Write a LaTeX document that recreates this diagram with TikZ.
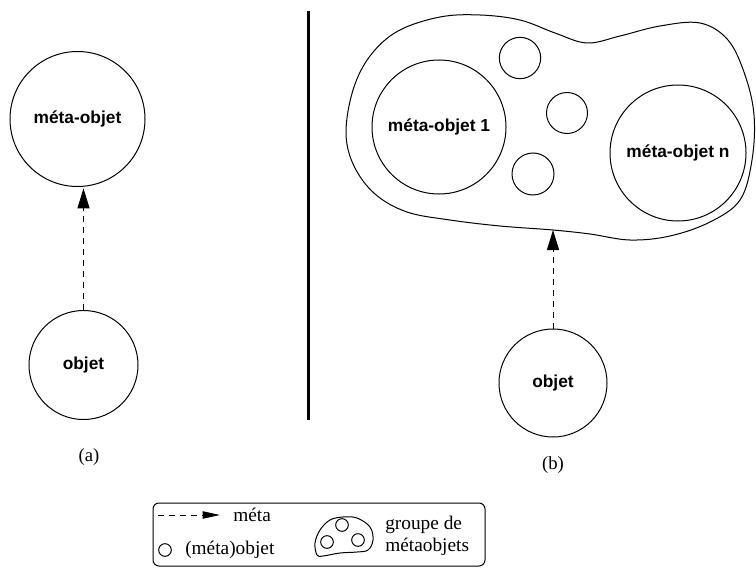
\documentclass[tikz,border=0pt]{standalone}
\usepackage{fontspec}
\setmainfont{Liberation Serif}
\setsansfont{Liberation Sans}
\usetikzlibrary{arrows.meta}
\tikzset{
  obj/.style={circle,draw,line width=0.75pt,inner sep=0pt,font=\sffamily\bfseries\fontsize{13}{15}\selectfont},
  metaarrow/.style={draw,line width=0.75pt,dash pattern=on 4.5pt off 3.75pt,-{Triangle[length=15pt,width=9pt]}},
  lab/.style={font=\rmfamily\fontsize{14}{16}\selectfont,inner sep=0pt},
  legtxt/.style={font=\rmfamily\fontsize{14.5}{15}\selectfont,inner sep=0pt,align=left},
  thin/.style={line width=0.75pt}
}
\begin{document}
\begin{tikzpicture}[x=0.75pt,y=-0.75pt]
\useasboundingbox (0,0) rectangle (756,567);
% (a)
\node[obj,minimum size=101.25pt] (m1) at (77.5,119) {méta-objet};
\node[obj,minimum size=81.75pt] (o1) at (83.5,365) {objet};
\draw[metaarrow,shorten >=1pt] (o1.north) -- (o1.north |- m1.south);
\node[lab] (la) at (89,457) {(a)};
% separator
\coordinate (st) at (308,11);
\coordinate (sb) at (308,420);
\draw[line width=2.25pt] (st) -- (sb);
% (b)
\draw[thin] plot[smooth cycle,tension=0.6] coordinates {
 (346,133) (353,90) (370,56) (398,31) (440,17) (480,15) (520,20)
 (555,33) (587,43) (620,36) (660,26) (700,23) (728,40) (745,75) (754,115)
 (752,160) (740,200) (710,222) (670,236) (630,240) (590,234) (553,230)
 (500,226) (450,220) (407,212) (375,194) (354,166)};
\node[obj,minimum size=100.5pt] (M1) at (439,127) {méta-objet 1};
\node[obj,minimum size=102pt] (Mn) at (678,153) {méta-objet n};
\node[obj,minimum size=31pt] (s1) at (520,58) {};
\node[obj,minimum size=30.75pt] (s2) at (567,113) {};
\node[obj,minimum size=31.5pt] (s3) at (533,174) {};
\node[obj,minimum size=81pt] (o2) at (553,383) {objet};
\coordinate (bh) at (553,230);
\draw[metaarrow] (o2.north) -- (bh);
\node[lab] (lb) at (553,465) {(b)};
% legend
\draw[thin,rounded corners=4.5pt] (153,503) rectangle (485,566);
\coordinate (la1) at (158,515);
\coordinate (la2) at (220,515);
\draw[line width=0.75pt,dash pattern=on 4.5pt off 3.75pt,-{Triangle[length=13pt,width=5.5pt]}] (la1) -- (la2);
\node[legtxt,anchor=west] (lt1) at (233,515) {méta};
\node[circle,draw,thin,minimum size=9.5pt,inner sep=0pt] (lc) at (165,550) {};
\node[legtxt,anchor=west] (lt2) at (185,550) {(méta)objet};
\draw[thin] plot[smooth cycle,tension=0.6] coordinates {
 (317,555) (315,543) (320,530) (330,520) (343,517) (357,518) (370,527) (373,540) (368,550) (357,552) (340,553) (323,556)};
\node[circle,draw,thin,minimum size=9.5pt,inner sep=0pt] (g1) at (342,525) {};
\node[circle,draw,thin,minimum size=9.5pt,inner sep=0pt] (g2) at (327,542) {};
\node[circle,draw,thin,minimum size=9.5pt,inner sep=0pt] (g3) at (358,540) {};
\node[legtxt,anchor=west] (lt3) at (385,525) {groupe de};
\node[legtxt,anchor=west] (lt4) at (385,547) {métaobjets};
\end{tikzpicture}
\end{document}
